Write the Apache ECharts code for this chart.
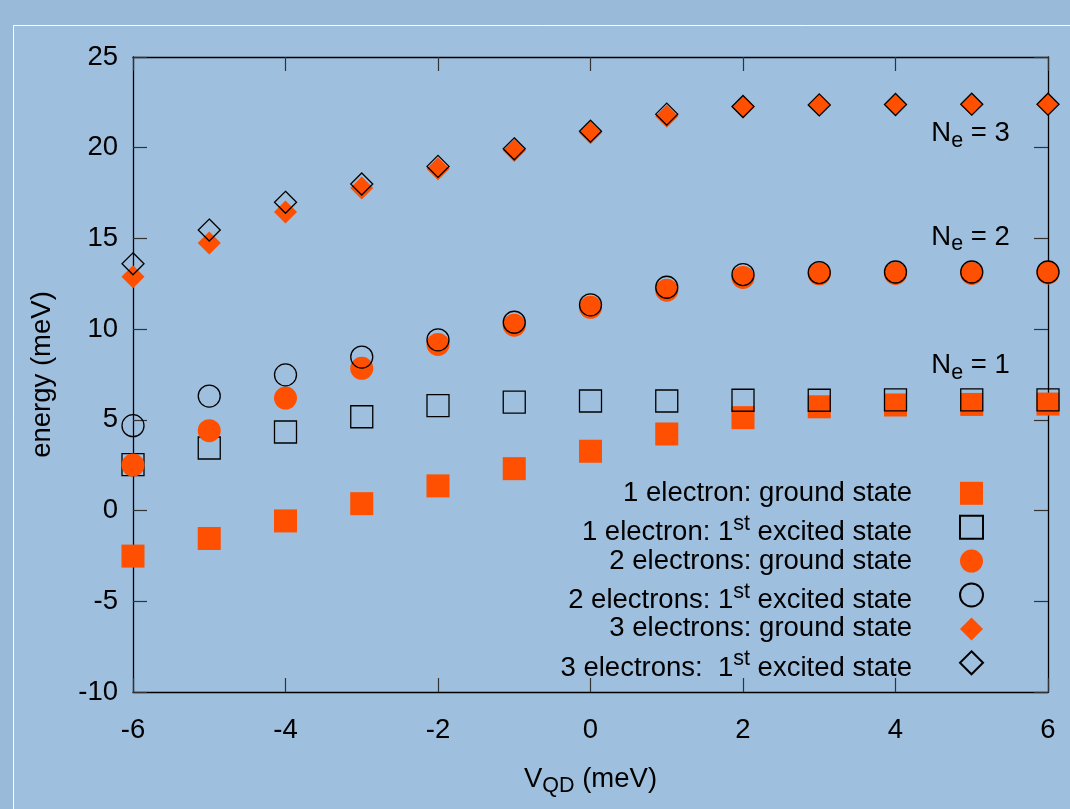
<!DOCTYPE html>
<html>
<head>
<meta charset="utf-8">
<script src="https://cdn.jsdelivr.net/npm/echarts@6/dist/echarts.min.js"></script>
<style>
html,body{margin:0;padding:0;background:#99bbd9;}
#chart{width:1070px;height:809px;}
</style>
</head>
<body>
<div id="chart"></div>
<script>
// ---- data ----
const vqd = [-6, -5, -4, -3, -2, -1, 0, 1, 2, 3, 4, 5, 6];
const oneGround   = [-2.51, -1.54, -0.57, 0.38, 1.36, 2.31, 3.27, 4.22, 5.12, 5.72, 5.82, 5.85, 5.87];
const oneExcited  = [2.53, 3.45, 4.33, 5.17, 5.78, 5.98, 6.04, 6.04, 6.08, 6.08, 6.10, 6.10, 6.10];
const twoGround   = [2.51, 4.40, 6.20, 7.84, 9.16, 10.22, 11.20, 12.15, 12.85, 13.05, 13.07, 13.07, 13.10];
const twoExcited  = [4.68, 6.31, 7.48, 8.46, 9.41, 10.38, 11.34, 12.31, 13.01, 13.12, 13.15, 13.15, 13.15];
const threeGround = [12.89, 14.75, 16.46, 17.78, 18.84, 19.85, 20.82, 21.74, 22.25, 22.36, 22.38, 22.40, 22.40];
const threeExcited= [13.60, 15.46, 16.99, 18.00, 18.97, 19.94, 20.91, 21.85, 22.27, 22.36, 22.38, 22.40, 22.40];
const xTicks = [-6, -4, -2, 0, 2, 4, 6];
const yTicks = [-10, -5, 0, 5, 10, 15, 20, 25];
const seriesNames = [
  '1 electron: ground state',
  '1 electron: 1st excited state',
  '2 electrons: ground state',
  '2 electrons: 1st excited state',
  '3 electrons: ground state',
  '3 electrons:  1st excited state'
];
const legendRich = [
  '{p|1 electron: ground state}',
  '{b|1 electron: 1}{sup|st}{b| excited state}',
  '{p|2 electrons: ground state}',
  '{b|2 electrons: 1}{sup|st}{b| excited state}',
  '{p|3 electrons: ground state}',
  '{b|3 electrons:  1}{sup|st}{b| excited state}'
];
const annotLabels = ['3', '2', '1'];
const annotX = [4.47, 4.47, 4.47];
const annotY = [20.77, 15.07, 7.99];

// ---- styles ----
const FONT = '"Liberation Sans", Arial, Helvetica, sans-serif';
const ORANGE = '#ff4f00';
const INNER = '#9ebfdd';
const BASE = 27.5, SUB = 21.5;

const chart = echarts.init(document.getElementById('chart'), null, {renderer: 'canvas'});

function pts(arr) { return vqd.map((x, i) => [x, arr[i]]); }
const filled = {color: ORANGE, borderWidth: 0, opacity: 1};
const hollow = {color: 'rgba(0,0,0,0)', borderColor: '#000', borderWidth: 1.3, opacity: 1};
const seriesDefs = [
  [oneGround, 'rect', 23, filled],
  [oneExcited, 'rect', 22, hollow],
  [twoGround, 'circle', 23, filled],
  [twoExcited, 'circle', 22, hollow],
  [threeGround, 'diamond', 23, filled],
  [threeExcited, 'diamond', 22, hollow]
];
const series = seriesDefs.map((d, i) => ({
  type: 'scatter',
  name: seriesNames[i],
  data: pts(d[0]),
  symbol: d[1],
  symbolSize: d[2],
  itemStyle: d[3],
  emphasis: {disabled: true},
  silent: true,
  clip: false
}));

const tickStyle = {show: true, inside: true, length: 14, lineStyle: {color: '#333', width: 1.2}};
const lineStyle = {show: true, onZero: false, lineStyle: {color: '#000', width: 1.3}};
const xMin = xTicks[0], xMax = xTicks[xTicks.length - 1], xInt = xTicks[1] - xTicks[0];
const yMin = yTicks[0], yMax = yTicks[yTicks.length - 1], yInt = yTicks[1] - yTicks[0];

const option = {
  animation: false,
  backgroundColor: '#99bbd9',
  textStyle: {fontFamily: FONT},
  grid: {left: 133, right: 22, top: 57, bottom: 117, outerBoundsMode: 'none', containLabel: false},
  xAxis: [{
    type: 'value', position: 'bottom', min: xMin, max: xMax, interval: xInt,
    axisLine: lineStyle, axisTick: tickStyle, splitLine: {show: false},
    axisLabel: {show: true, margin: 24, color: '#000', fontSize: BASE, fontFamily: FONT},
    name: '{v|V}{s|QD}{v| (meV)}', nameLocation: 'middle', nameGap: 73.5, nameMoveOverlap: false,
    nameTextStyle: {
      color: '#000', fontFamily: FONT, fontSize: BASE,
      rich: {
        v: {fontSize: BASE, lineHeight: 27, fontFamily: FONT, color: '#000'},
        s: {fontSize: SUB, lineHeight: 27, fontFamily: FONT, color: '#000', padding: [14.2, 0, 0, 0]}
      }
    }
  }, {
    type: 'value', position: 'top', min: xMin, max: xMax, interval: xInt,
    axisLine: lineStyle, axisTick: tickStyle, splitLine: {show: false}, axisLabel: {show: false}
  }],
  yAxis: [{
    type: 'value', position: 'left', min: yMin, max: yMax, interval: yInt,
    axisLine: lineStyle, axisTick: tickStyle, splitLine: {show: false},
    axisLabel: {show: true, margin: 15, color: '#000', fontSize: BASE, fontFamily: FONT},
    name: 'energy (meV)', nameLocation: 'middle', nameGap: 77, nameRotate: 90, nameMoveOverlap: false,
    nameTextStyle: {color: '#000', fontSize: BASE, fontFamily: FONT}
  }, {
    type: 'value', position: 'right', min: yMin, max: yMax, interval: yInt,
    axisLine: lineStyle, axisTick: tickStyle, splitLine: {show: false}, axisLabel: {show: false}
  }],
  legend: {
    orient: 'vertical', align: 'right', right: 86, top: 479.3, padding: 0,
    itemWidth: 23, itemHeight: 23, itemGap: 0.6, selectedMode: false,
    data: seriesNames,
    formatter: function (name) { return legendRich[seriesNames.indexOf(name)]; },
    textStyle: {
      color: '#000', fontSize: BASE, fontFamily: FONT, padding: [0, 43, 0, 0],
      rich: {
        p: {fontSize: BASE, lineHeight: 34, fontFamily: FONT, color: '#000'},
        b: {fontSize: BASE, lineHeight: 34, fontFamily: FONT, color: '#000', padding: [10.6, 0, 0, 0]},
        sup: {fontSize: SUB, lineHeight: 34, fontFamily: FONT, color: '#000', padding: [0, 0, 6.6, 0]}
      }
    }
  },
  series: series
};
chart.setOption(option);

// frame + annotations
const graphics = [{
  type: 'rect', z: -100, silent: true,
  shape: {x: 13.5, y: 25.5, width: 1200, height: 900},
  style: {fill: INNER, stroke: '#ffffff', lineWidth: 1}
}];
annotLabels.forEach((lab, i) => {
  const p = chart.convertToPixel({gridIndex: 0}, [annotX[i], annotY[i]]);
  graphics.push({
    type: 'text', silent: true, z: 10, x: p[0], y: p[1],
    style: {
      text: '{n|N}{s|e}{n| = ' + lab + '}',
      align: 'left', verticalAlign: 'middle',
      fontFamily: FONT, fontSize: BASE, fill: '#000',
      rich: {
        n: {fontSize: BASE, lineHeight: 27, fontFamily: FONT, fill: '#000'},
        s: {fontSize: SUB, lineHeight: 27, fontFamily: FONT, fill: '#000', padding: [14.2, 0, 0, 0]}
      }
    }
  });
});
chart.setOption({graphic: graphics});
</script>
</body>
</html>
